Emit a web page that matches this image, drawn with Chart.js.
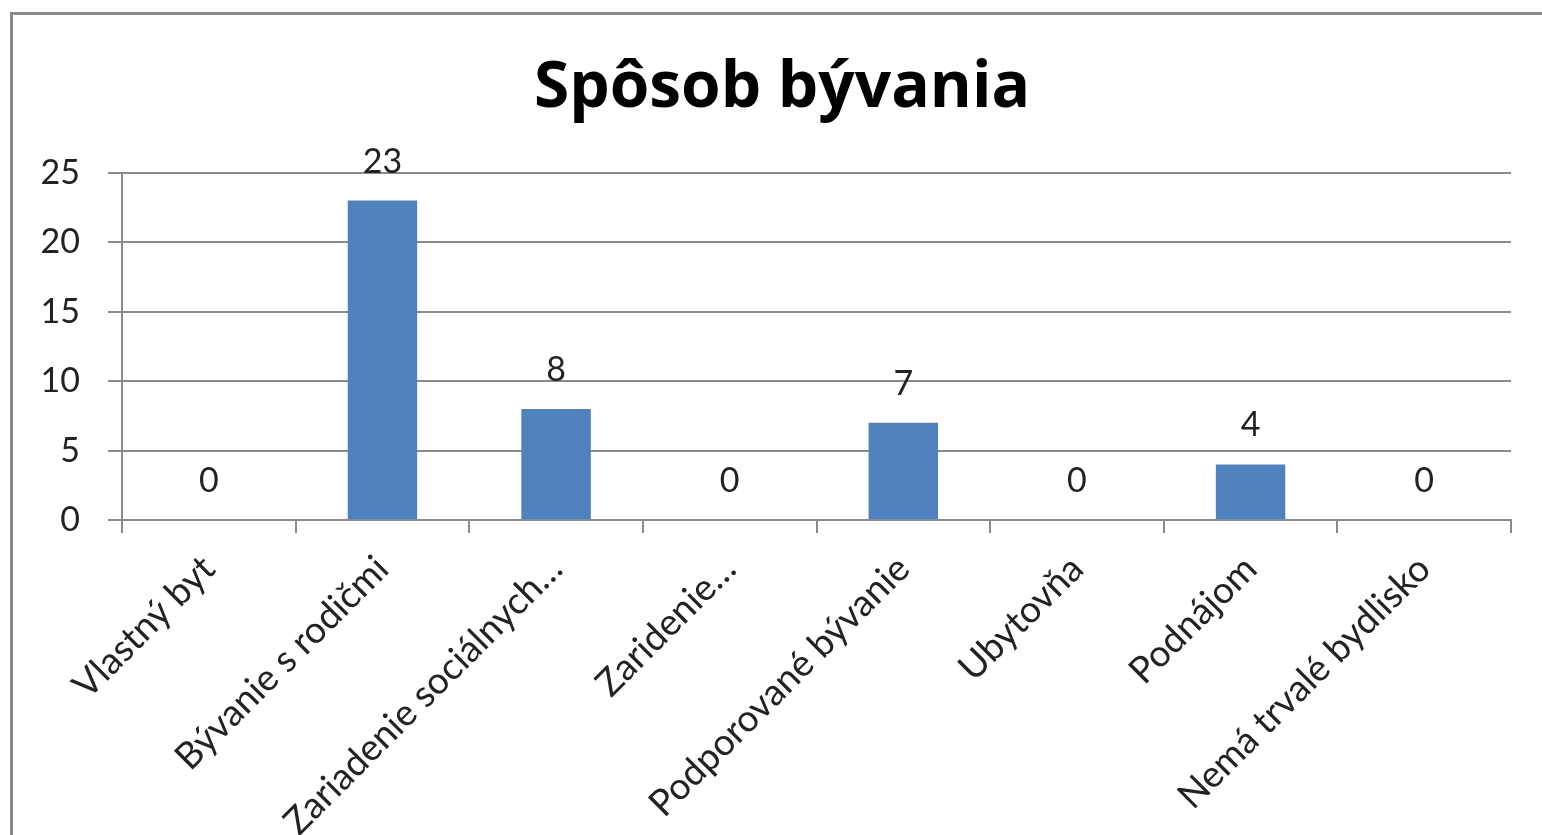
<!DOCTYPE html>
<html>
<head>
<meta charset="utf-8">
<script src="https://cdn.jsdelivr.net/npm/chart.js@4"></script>
<style>
  body { margin: 0; background: #fff; overflow: hidden; }
  #frame { position: absolute; left: 10px; top: 12px; width: 1600px; height: 900px; border: 3px solid #8a8a8a; }
  #wrap { position: absolute; left: 0; top: 0; width: 1542px; height: 835px; }
</style>
</head>
<body>
<div id="frame"></div>
<div id="wrap"><canvas id="chart"></canvas></div>
<script>
const categories = [
  "Vlastný byt",
  "Bývanie s rodičmi",
  "Zariadenie sociálnych…",
  "Zaridenie…",
  "Podporované bývanie",
  "Ubytovňa",
  "Podnájom",
  "Nemá trvalé bydlisko"
];
const counts = [0, 23, 8, 0, 7, 0, 4, 0];
const yTicks = [0, 5, 10, 15, 20, 25];

const FONT = "Lato, 'Open Sans', sans-serif";

// value labels above each bar
const valueLabels = {
  id: "valueLabels",
  afterDatasetsDraw(chart) {
    const ctx = chart.ctx;
    const meta = chart.getDatasetMeta(0);
    ctx.save();
    ctx.font = "34px " + FONT;
    ctx.fillStyle = "#222";
    ctx.textAlign = "center";
    ctx.textBaseline = "alphabetic";
    meta.data.forEach((bar, i) => {
      ctx.fillText(String(counts[i]), bar.x, bar.y - 28);
    });
    ctx.restore();
  }
};

// the title sits a little right of the canvas centre in the original
const shiftTitle = {
  id: "shiftTitle",
  afterLayout(chart) {
    if (chart.titleBlock) chart.titleBlock.left += 53;
  }
};

new Chart(document.getElementById("chart"), {
  type: "bar",
  data: {
    labels: categories,
    datasets: [
      {
        data: counts,
        backgroundColor: "#4f81bd",
        borderWidth: 0,
        categoryPercentage: 1,
        barPercentage: 0.4
      }
    ]
  },
  options: {
    responsive: true,
    maintainAspectRatio: false,
    animation: false,
    layout: { padding: { left: 0, right: 31, top: 0, bottom: 0 } },
    plugins: {
      legend: { display: false },
      tooltip: { enabled: false },
      title: {
        display: true,
        text: "Spôsob bývania",
        color: "#000",
        font: { family: "'Open Sans', sans-serif", size: 64, weight: "bold", lineHeight: 1.2 },
        padding: { top: 50, bottom: 46 }
      }
    },
    scales: {
      x: {
        offset: true,
        grid: {
          offset: true,
          drawOnChartArea: false,
          drawTicks: true,
          tickLength: 13,
          color: "#8a8a8a",
          lineWidth: 2
        },
        border: { color: "#8a8a8a", width: 2 },
        ticks: {
          color: "#222",
          font: { family: FONT, size: 37 },
          maxRotation: 45,
          minRotation: 45,
          autoSkip: false,
          padding: 14
        },
        afterFit: (axis) => { axis.height = 315; }
      },
      y: {
        min: 0,
        max: 25,
        afterBuildTicks: (axis) => { axis.ticks = yTicks.map((v) => ({ value: v })); },
        grid: {
          color: "#8a8a8a",
          lineWidth: 2,
          tickLength: 14
        },
        border: { color: "#8a8a8a", width: 2 },
        ticks: {
          color: "#222",
          font: { family: FONT, size: 34 },
          padding: 28
        },
        afterFit: (axis) => { axis.width = 122; }
      }
    }
  },
  plugins: [valueLabels, shiftTitle]
});
</script>
</body>
</html>
